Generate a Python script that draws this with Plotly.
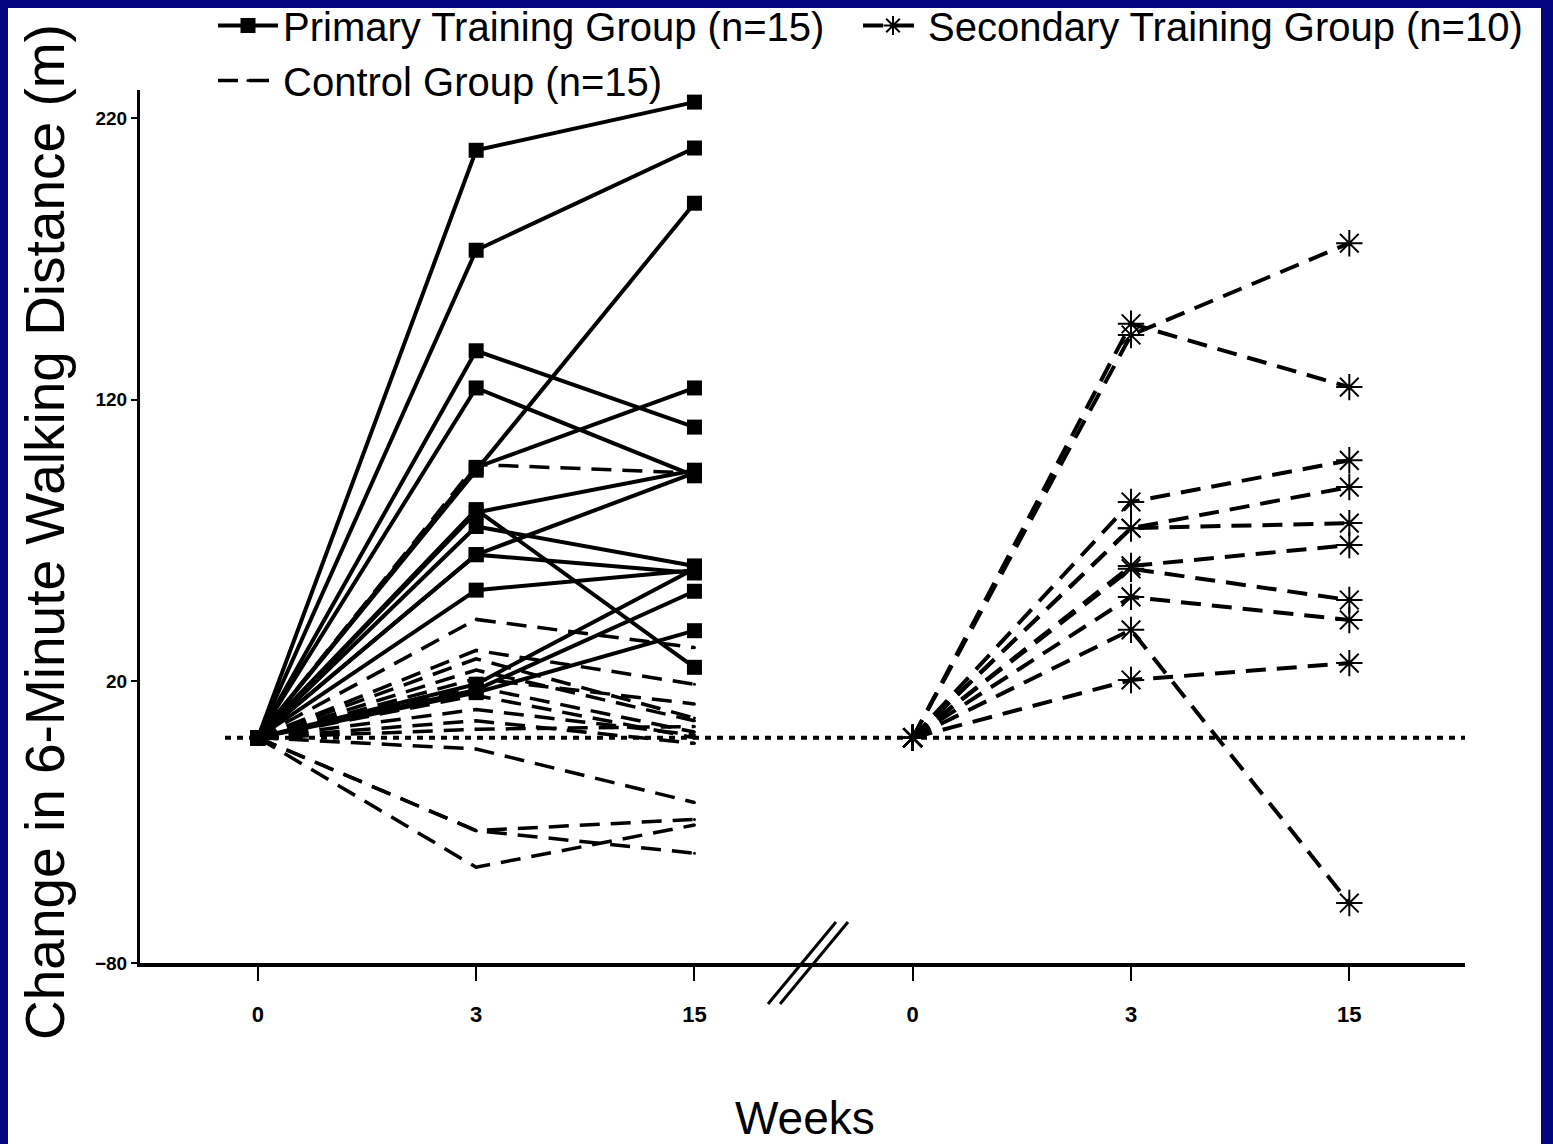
import plotly.graph_objects as go

# ---- data (change in 6-minute walking distance, m) ----
week_labels = ["0", "3", "15"]
y_ticks = [-80, 20, 120, 220]

primary_w0 = [0, 0, 0, 0, 0, 0, 0, 0, 0, 0, 0, 0, 0, 0, 0]
primary_w3 = [208.6, 173.1, 137.4, 124.2, 95, 96, 80, 81, 65, 65, 52.4, 17, 16, 75, 19]
primary_w15 = [225.7, 209.4, 110.3, 93, 189.8, 124.2, 95, 25, 94, 58.5, 59.5, 52, 38, 61, 60]

control_w0 = [0, 0, 0, 0, 0, 0, 0, 0, 0, 0, 0, 0, 0, 0, 0]
control_w3 = [97, 42, 31, 28, 18, 15, 21, 24, 10, -4, -33, -33, -46, 6, 3]
control_w15 = [94, 32, 19, 7, 2, 0, 12, 6, 1, -23, -29, -41, -31, -2, 4]

secondary_w0 = [0, 0, 0, 0, 0, 0, 0, 0, 0, 0]
secondary_w3 = [147, 143, 83.7, 74.4, 74.4, 61, 60, 50, 38.3, 20.5]
secondary_w15 = [124.5, 175.6, 98.5, 89, 76.2, 68.4, 48.9, 41.8, -58.7, 26.5]

# category slots on the x axis: left panel 0..2, right panel 3..5
left_slots = [0, 1, 2]
right_slots = [3, 4, 5]


def build(w0, w3, w15, slots):
    xs, ys = [], []
    for a, b, c in zip(w0, w3, w15):
        xs += [slots[0], slots[1], slots[2], None]
        ys += [a, b, c, None]
    return xs, ys


fig = go.Figure()

px_, py_ = build(primary_w0, primary_w3, primary_w15, left_slots)
cx_, cy_ = build(control_w0, control_w3, control_w15, left_slots)
sx_, sy_ = build(secondary_w0, secondary_w3, secondary_w15, right_slots)

fig.add_trace(go.Scatter(
    x=cx_, y=cy_, mode="lines+markers", name="Control Group (n=15)",
    line=dict(color="black", width=3.5, dash="20px,11px"),
    marker=dict(symbol="circle", size=3, color="black"),
    connectgaps=False, legendrank=3, legend="legend"))

fig.add_trace(go.Scatter(
    x=px_, y=py_, mode="lines+markers", name="Primary Training Group (n=15)",
    line=dict(color="black", width=4),
    marker=dict(symbol="square", size=15, color="black"),
    connectgaps=False, legendrank=1, legend="legend"))

fig.add_trace(go.Scatter(
    x=sx_, y=sy_, mode="lines+markers", name="Secondary Training Group (n=10)",
    line=dict(color="black", width=4, dash="20px,11px"),
    marker=dict(symbol="asterisk-open", size=22, color="black",
                line=dict(color="black", width=2)),
    connectgaps=False, legendrank=2, legend="legend2"))

W, H = 1553, 1144
ml, mr, mt, mb = 140, 88, 90, 181
pw, ph = W - ml - mr, H - mt - mb


def pxx(p):
    return (p - ml) / pw


def pxy(p):
    return (H - mb - p) / ph


shapes = [
    # white page inside the navy frame
    dict(type="rect", xref="paper", yref="paper",
         x0=pxx(8), x1=pxx(1541), y0=pxy(1150), y1=pxy(8),
         fillcolor="white", line=dict(width=0), layer="below"),
    # dotted zero reference line
    dict(type="line", xref="paper", yref="y", x0=pxx(225), x1=1, y0=0, y1=0,
         line=dict(color="black", width=4, dash="6px,6px"), layer="below"),
    # axis break marks
    dict(type="line", xref="paper", yref="paper",
         x0=pxx(768), y0=pxy(1004), x1=pxx(836), y1=pxy(922),
         line=dict(color="black", width=3)),
    dict(type="line", xref="paper", yref="paper",
         x0=pxx(780), y0=pxy(1004), x1=pxx(848), y1=pxy(922),
         line=dict(color="black", width=3)),
]

annotations = [
    dict(text="Change in 6-Minute Walking Distance (m)", xref="paper", yref="paper",
         x=pxx(45), y=pxy(532), textangle=-90, showarrow=False,
         font=dict(family="Liberation Sans, Arial", size=55, color="black"),
         xanchor="center", yanchor="middle"),
    dict(text="Weeks", xref="paper", yref="paper",
         x=pxx(805), y=pxy(1118), showarrow=False,
         font=dict(family="Liberation Sans, Arial", size=46, color="black"),
         xanchor="center", yanchor="middle"),
]

legend_common = dict(orientation="v", xanchor="left", yanchor="top",
                     bgcolor="rgba(0,0,0,0)", font=dict(size=40, color="black"),
                     itemwidth=60, tracegroupgap=0)

fig.update_layout(
    width=W, height=H,
    margin=dict(l=ml, r=mr, t=mt, b=mb, pad=0, autoexpand=False),
    paper_bgcolor="#04047e",
    plot_bgcolor="white",
    font=dict(family="Liberation Sans, Arial", color="black"),
    shapes=shapes,
    annotations=annotations,
    showlegend=True,
    legend=dict(x=pxx(213), y=pxy(-7), **legend_common),
    legend2=dict(x=pxx(858), y=pxy(-7), **legend_common),
    xaxis=dict(range=[-0.54, 5.53], tickvals=left_slots + right_slots,
               ticktext=week_labels + week_labels,
               showgrid=False, zeroline=False, showline=True,
               linecolor="black", linewidth=4, ticks="outside", ticklen=14,
               tickwidth=2, tickcolor="black", ticklabelstandoff=15,
               tickfont=dict(family="Liberation Sans, Arial",
                             size=22, color="black", weight="bold")),
    yaxis=dict(range=[-80, 230], tickvals=y_ticks,
               showgrid=False, zeroline=False, showline=True,
               linecolor="black", linewidth=3, ticks="outside", ticklen=6,
               tickwidth=2, tickcolor="black",
               tickfont=dict(family="Liberation Sans, Arial",
                             size=19, color="black", weight="bold")),
)

fig.write_html(
    "out.html",
    config={"displayModeBar": False},
    post_script="document.body.style.margin='0px';"
                "document.body.style.background='#04047e';"
                "document.body.style.overflow='hidden';",
)
